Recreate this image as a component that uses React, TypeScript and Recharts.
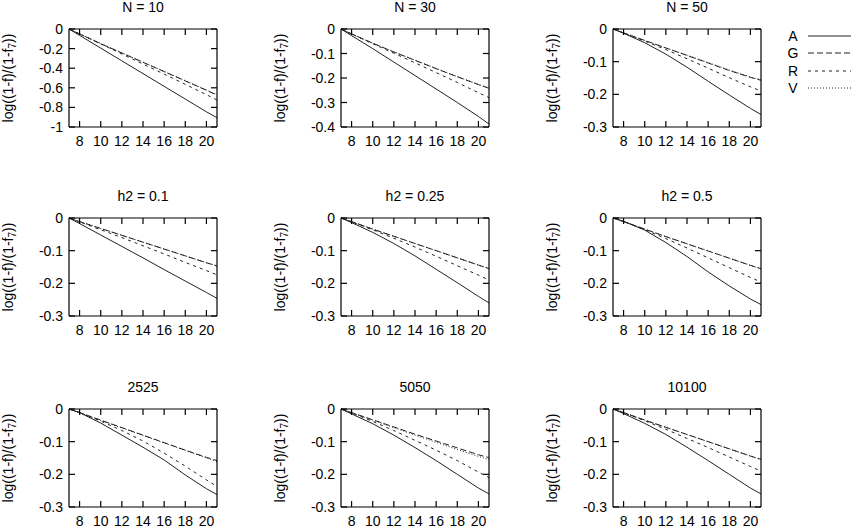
import React from 'react';
import { LineChart, Line, XAxis, YAxis, Label } from 'recharts';

const XS = [7, 8, 10, 12, 14, 16, 18, 20, 21];
const X_TICKS = [8, 10, 12, 14, 16, 18, 20];
const Y_TICKS_10 = [0, -0.2, -0.4, -0.6, -0.8, -1];
const Y_TICKS_04 = [0, -0.1, -0.2, -0.3, -0.4];
const Y_TICKS_03 = [0, -0.1, -0.2, -0.3];

const SERIES = ['A', 'G', 'R', 'V'];

// N = 10
const N10_A = [0, -0.065, -0.195, -0.325, -0.455, -0.585, -0.715, -0.845, -0.905];
const N10_G = [0, -0.05, -0.15, -0.245, -0.34, -0.435, -0.53, -0.625, -0.675];
const N10_R = [0, -0.05, -0.152, -0.255, -0.358, -0.46, -0.565, -0.67, -0.725];
const N10_V = [0, -0.05, -0.148, -0.243, -0.338, -0.432, -0.527, -0.622, -0.67];
// N = 30
const N30_A = [0, -0.027, -0.08, -0.135, -0.19, -0.245, -0.3, -0.357, -0.388];
const N30_G = [0, -0.02, -0.058, -0.094, -0.128, -0.162, -0.195, -0.227, -0.242];
const N30_R = [0, -0.02, -0.06, -0.099, -0.138, -0.178, -0.218, -0.26, -0.28];
const N30_V = [0, -0.02, -0.058, -0.093, -0.127, -0.161, -0.194, -0.226, -0.241];
// N = 50
const N50_A = [0, -0.013, -0.042, -0.077, -0.117, -0.16, -0.202, -0.243, -0.262];
const N50_G = [0, -0.012, -0.035, -0.058, -0.081, -0.104, -0.127, -0.148, -0.157];
const N50_R = [0, -0.012, -0.037, -0.063, -0.091, -0.12, -0.149, -0.177, -0.19];
const N50_V = [0, -0.012, -0.035, -0.058, -0.08, -0.103, -0.126, -0.147, -0.155];
// h2 = 0.1
const H01_A = [0, -0.017, -0.052, -0.087, -0.122, -0.158, -0.193, -0.228, -0.246];
const H01_G = [0, -0.011, -0.032, -0.053, -0.074, -0.095, -0.116, -0.137, -0.147];
const H01_R = [0, -0.012, -0.036, -0.06, -0.085, -0.11, -0.136, -0.161, -0.174];
const H01_V = [0, -0.011, -0.032, -0.053, -0.074, -0.095, -0.116, -0.137, -0.146];
// h2 = 0.25
const H025_A = [0, -0.014, -0.044, -0.078, -0.116, -0.157, -0.198, -0.24, -0.26];
const H025_G = [0, -0.011, -0.034, -0.056, -0.078, -0.1, -0.122, -0.144, -0.155];
const H025_R = [0, -0.012, -0.036, -0.062, -0.089, -0.117, -0.146, -0.175, -0.19];
const H025_V = [0, -0.011, -0.034, -0.056, -0.078, -0.1, -0.122, -0.144, -0.155];
// h2 = 0.5
const H05_A = [0, -0.01, -0.037, -0.075, -0.118, -0.165, -0.208, -0.248, -0.265];
const H05_G = [0, -0.011, -0.034, -0.057, -0.079, -0.101, -0.123, -0.145, -0.155];
const H05_R = [0, -0.011, -0.036, -0.063, -0.092, -0.122, -0.152, -0.182, -0.196];
const H05_V = [0, -0.011, -0.034, -0.057, -0.079, -0.101, -0.123, -0.145, -0.156];
// 2525
const S2525_A = [0, -0.011, -0.043, -0.08, -0.117, -0.156, -0.202, -0.244, -0.262];
const S2525_G = [0, -0.011, -0.034, -0.057, -0.08, -0.103, -0.126, -0.148, -0.158];
const S2525_R = [0, -0.011, -0.037, -0.066, -0.098, -0.135, -0.175, -0.217, -0.237];
const S2525_V = [0, -0.011, -0.035, -0.058, -0.081, -0.104, -0.127, -0.15, -0.161];
// 5050
const S5050_A = [0, -0.015, -0.045, -0.08, -0.118, -0.158, -0.2, -0.242, -0.26];
const S5050_G = [0, -0.011, -0.033, -0.055, -0.077, -0.098, -0.119, -0.14, -0.149];
const S5050_R = [0, -0.012, -0.038, -0.066, -0.096, -0.126, -0.158, -0.193, -0.21];
const S5050_V = [0, -0.011, -0.034, -0.057, -0.08, -0.102, -0.124, -0.145, -0.155];
// 10100
const S10100_A = [0, -0.014, -0.044, -0.078, -0.117, -0.158, -0.2, -0.242, -0.26];
const S10100_G = [0, -0.011, -0.034, -0.056, -0.078, -0.1, -0.122, -0.144, -0.154];
const S10100_R = [0, -0.011, -0.036, -0.062, -0.09, -0.118, -0.147, -0.176, -0.19];
const S10100_V = [0, -0.011, -0.034, -0.056, -0.078, -0.1, -0.122, -0.144, -0.155];

const panels = [
  { title: 'N = 10', yMin: -1, yTicks: Y_TICKS_10, A: N10_A, G: N10_G, R: N10_R, V: N10_V },
  { title: 'N = 30', yMin: -0.4, yTicks: Y_TICKS_04, A: N30_A, G: N30_G, R: N30_R, V: N30_V },
  { title: 'N = 50', yMin: -0.3, yTicks: Y_TICKS_03, A: N50_A, G: N50_G, R: N50_R, V: N50_V },
  { title: 'h2 = 0.1', yMin: -0.3, yTicks: Y_TICKS_03, A: H01_A, G: H01_G, R: H01_R, V: H01_V },
  { title: 'h2 = 0.25', yMin: -0.3, yTicks: Y_TICKS_03, A: H025_A, G: H025_G, R: H025_R, V: H025_V },
  { title: 'h2 = 0.5', yMin: -0.3, yTicks: Y_TICKS_03, A: H05_A, G: H05_G, R: H05_R, V: H05_V },
  { title: '2525', yMin: -0.3, yTicks: Y_TICKS_03, A: S2525_A, G: S2525_G, R: S2525_R, V: S2525_V },
  { title: '5050', yMin: -0.3, yTicks: Y_TICKS_03, A: S5050_A, G: S5050_G, R: S5050_R, V: S5050_V },
  { title: '10100', yMin: -0.3, yTicks: Y_TICKS_03, A: S10100_A, G: S10100_G, R: S10100_R, V: S10100_V },
];

const COL_LEFT = [69, 341, 613];
const ROW_TOP = [29, 218, 409];
const PLOT_W = 148;
const PLOT_H = 98;
const AXIS_W = 70;
const TOP_PAD = 10;
const FONT = '"Liberation Sans", Arial, Helvetica, sans-serif';
const INK = '#222';

const dash: Record<string, string | undefined> = {
  A: undefined,
  G: '6 3',
  R: '3 4',
  V: '1 2',
};

// default tickMargin is 2, ticks point inward 6px -> shift the labels ourselves
function XTick(props: any) {
  return (
    <text x={props.x} y={props.y + 18} textAnchor="middle" dominantBaseline="central" fontSize={14} fontFamily={FONT} fill="#000">
      {String(props.payload.value)}
    </text>
  );
}

function YTick(props: any) {
  return (
    <text x={props.x - 10} y={props.y} textAnchor="end" dominantBaseline="central" fontSize={14} fontFamily={FONT} fill="#000">
      {String(props.payload.value)}
    </text>
  );
}

const NoTick = () => <g />;

function YLabel(props: any) {
  const { x, y, height } = props.viewBox;
  const cx = x + 9;
  const cy = y + height / 2;
  return (
    <text
      x={cx}
      y={cy}
      transform={`rotate(-90, ${cx}, ${cy})`}
      textAnchor="middle"
      dominantBaseline="central"
      fontSize={14}
      fontFamily={FONT}
      fill="#000"
    >
      log((1-f)/(1-f
      <tspan fontSize={10} dy={4}>7</tspan>
      <tspan dy={-4}>))</tspan>
    </text>
  );
}

function Panel({ p, left, top }: { p: any; left: number; top: number }) {
  const data = XS.map((x, i) => ({ x, A: p.A[i], G: p.G[i], R: p.R[i], V: p.V[i] }));
  const common: any = {
    stroke: '#000',
    strokeWidth: 1.2,
    tickSize: -6,
    interval: 0,
  };
  return (
    <>
      <div
        style={{
          position: 'absolute',
          left: left + PLOT_W / 2 - 100,
          top: top - 30,
          width: 200,
          textAlign: 'center',
          fontFamily: FONT,
          fontSize: 14,
          lineHeight: '16px',
          color: '#000',
        }}
      >
        {p.title}
      </div>
      <div style={{ position: 'absolute', left: left - AXIS_W, top: top - TOP_PAD }}>
        <LineChart
          width={AXIS_W + PLOT_W + 4}
          height={TOP_PAD + PLOT_H + 32}
          data={data}
          margin={{ top: TOP_PAD - 1, right: 3, left: 0, bottom: 2 }}
        >
          <XAxis {...common} type="number" xAxisId="b" dataKey="x" domain={[7, 21]} ticks={X_TICKS} height={30} tick={<XTick />} />
          <XAxis {...common} type="number" xAxisId="t" orientation="top" dataKey="x" domain={[7, 21]} ticks={X_TICKS} height={1} tick={<NoTick />} />
          <YAxis {...common} type="number" yAxisId="l" domain={[p.yMin, 0]} ticks={p.yTicks} width={AXIS_W} tick={<YTick />}>
            <Label content={<YLabel />} />
          </YAxis>
          <YAxis {...common} type="number" yAxisId="r" orientation="right" domain={[p.yMin, 0]} ticks={p.yTicks} width={1} tick={<NoTick />} />
          {SERIES.map((s, i) => (
            <Line
              key={s}
              dataKey={s}
              xAxisId={i < 2 ? 'b' : 't'}
              yAxisId={i < 2 ? 'l' : 'r'}
              type="linear"
              stroke={INK}
              strokeWidth={1}
              strokeDasharray={dash[s]}
              dot={false}
              activeDot={false}
              isAnimationActive={false}
            />
          ))}
        </LineChart>
      </div>
    </>
  );
}

function LegendBox() {
  const rows = [36, 53, 71, 88];
  return (
    <svg width={70} height={110} style={{ position: 'absolute', left: 781, top: 0 }}>
      {SERIES.map((s, i) => (
        <g key={s}>
          <text x={12} y={rows[i]} textAnchor="middle" dominantBaseline="central" fontSize={14} fontFamily={FONT} fill="#000">
            {s}
          </text>
          <line x1={27} x2={70} y1={rows[i]} y2={rows[i]} stroke={INK} strokeWidth={1} strokeDasharray={dash[s]} />
        </g>
      ))}
    </svg>
  );
}

export default function App() {
  return (
    <div style={{ position: 'absolute', left: 0, top: 0, width: 851, height: 527, background: '#fff', overflow: 'hidden' }}>
      {panels.map((p, i) => (
        <Panel key={p.title} p={p} left={COL_LEFT[i % 3]} top={ROW_TOP[Math.floor(i / 3)]} />
      ))}
      <LegendBox />
    </div>
  );
}
